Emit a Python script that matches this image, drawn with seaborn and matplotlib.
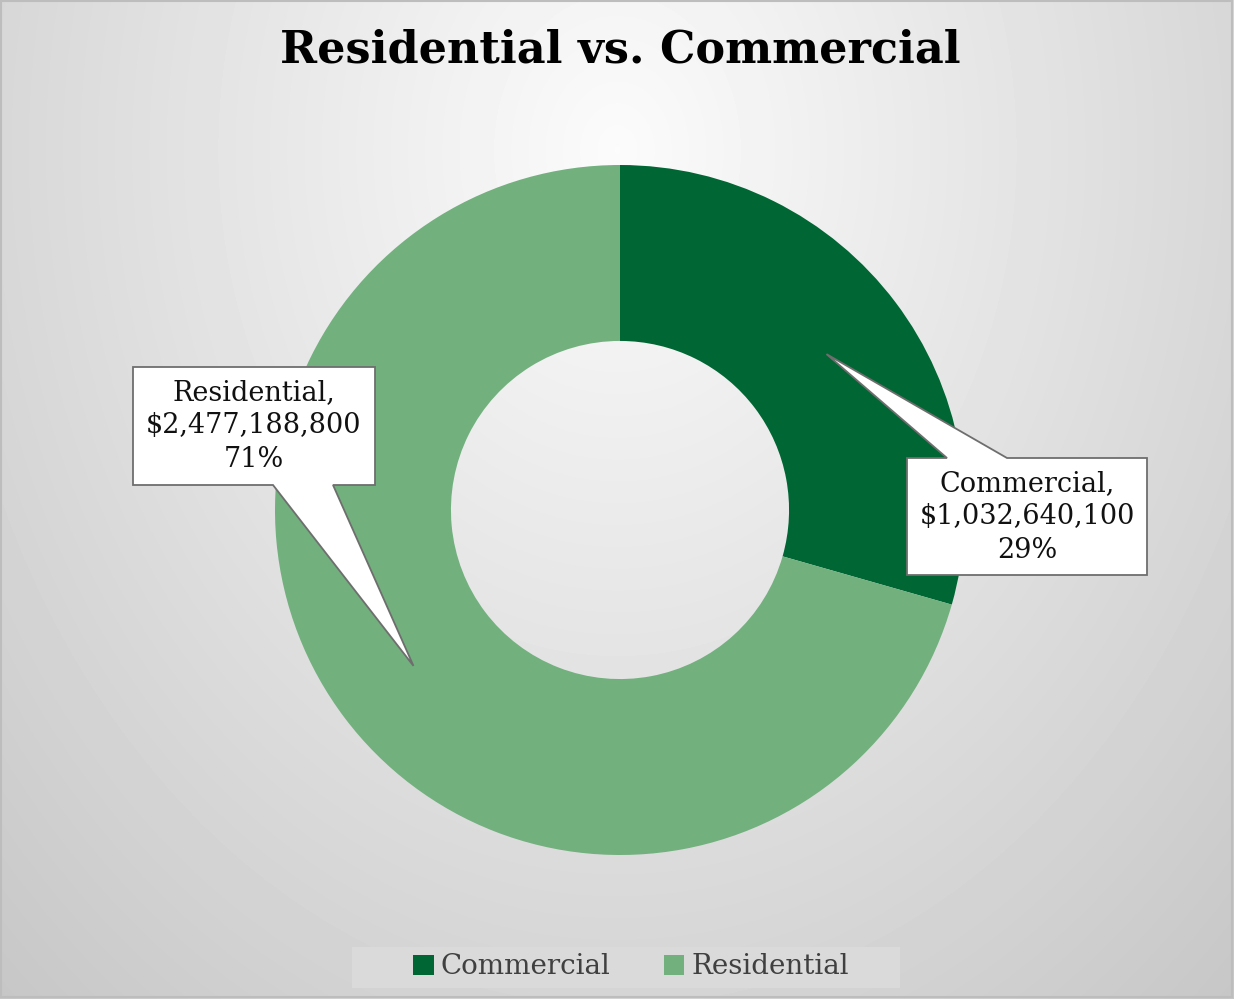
import numpy as np
import matplotlib
matplotlib.use("Agg")
import matplotlib.pyplot as plt
from matplotlib.patches import Polygon, Rectangle
import seaborn as sns

# data
categories = ["Commercial", "Residential"]
values = [1032640100, 2477188800]
colors = ["#006633", "#72B07E"]

sns.set_theme(style="white")
plt.rcParams["font.family"] = ["DejaVu Serif"]

W, H = 1234, 999
fig = plt.figure(figsize=(W / 100, H / 100), dpi=100)

# soft radial gradient background
bg = fig.add_axes([0, 0, 1, 1], zorder=0)
yy, xx = np.mgrid[0:H, 0:W]
d = np.sqrt(((xx - 617) / 750.0) ** 2 + ((yy - 150) / 950.0) ** 2)
shade = np.clip(0.985 - 0.17 * d, 0.75, 1.0)
bg.imshow(shade, cmap="gray", vmin=0, vmax=1, extent=[0, W, H, 0], aspect="auto")
bg.add_patch(Rectangle((1, 1), W - 3, H - 3, fill=False, ec="#bdbdbd", lw=1.5))
# legend backdrop
bg.add_patch(Rectangle((352, 947), 548, 41, fc="#dadada", ec="none"))
bg.set_xlim(0, W)
bg.set_ylim(H, 0)
bg.axis("off")

# pie axes: 1 data unit = 345 px, centre at pixel (620, 510)
R = 345.0
cx, cy = 620, 510
ax = fig.add_axes([0, 0, 1, 1], zorder=1)
ax.patch.set_alpha(0)

wedges, _ = ax.pie(values, colors=colors, startangle=90, counterclock=False,
                   radius=1.0, wedgeprops=dict(width=0.51, linewidth=0),
                   frame=True)
ax.set_xlim(-cx / R, (W - cx) / R)
ax.set_ylim(-(H - cy) / R, cy / R)
ax.set_aspect("equal")
ax.axis("off")

total = sum(values)

def px(x, y):
    return ((x - cx) / R, (cy - y) / R)

# callouts: box in pixels (x0, y0, x1, y1), pointer base on top/bottom edge
boxes = {
    "Residential": dict(box=(133, 367, 375, 485), base=(273, 333), side="bottom",
                        text=(254, 426)),
    "Commercial": dict(box=(907, 458, 1147, 575), base=(947, 1007), side="top",
                       text=(1027, 517)),
}

for w, cat, val in zip(wedges, categories, values):
    ang = np.deg2rad((w.theta1 + w.theta2) / 2)
    tip = (0.75 * np.cos(ang), 0.75 * np.sin(ang))
    b = boxes[cat]
    x0, y0, x1, y1 = b["box"]
    bx0, bx1 = b["base"]
    if b["side"] == "bottom":
        verts = [px(x0, y0), px(x1, y0), px(x1, y1), px(bx1, y1), tip,
                 px(bx0, y1), px(x0, y1)]
    else:
        verts = [px(x0, y0), px(bx0, y0), tip, px(bx1, y0), px(x1, y0),
                 px(x1, y1), px(x0, y1)]
    ax.add_patch(Polygon(verts, closed=True, fc="white", ec="#6e6e6e", lw=1.3,
                         zorder=5))
    pct = round(100 * val / total)
    ax.text(*px(*b["text"]), f"{cat},\n${val:,}\n{pct}%", ha="center",
            va="center", fontsize=19.5, color="#111111", linespacing=1.3,
            zorder=6)

fig.text(0.503, 0.950, "Residential vs. Commercial", ha="center", va="center",
         fontsize=32, fontweight="bold", color="black")

handles = [Rectangle((0, 0), 1, 1, fc=c, ec="none") for c in colors]
leg = fig.legend(handles, categories, loc="center", ncol=2,
                 bbox_to_anchor=(631 / W, 1 - 967 / H), frameon=False,
                 fontsize=20, handlelength=0.75, handleheight=0.75,
                 handletextpad=0.25, columnspacing=1.9, borderpad=0.2)
for t in leg.get_texts():
    t.set_color("#404040")

fig.savefig("out.png", dpi=100)
